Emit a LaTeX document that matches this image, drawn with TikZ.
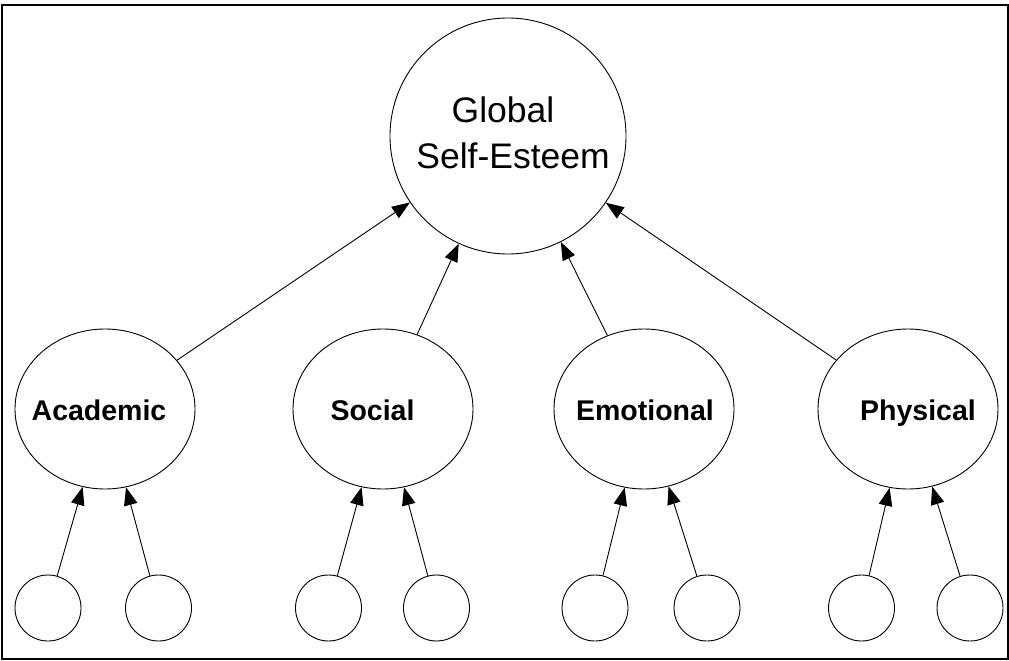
\documentclass[tikz,border=0pt]{standalone}
\usepackage{fontspec}
\setmainfont{Liberation Sans}
\usetikzlibrary{shapes.geometric,arrows.meta}
\begin{document}
\begin{tikzpicture}[x=1pt,y=-1pt,
  facet/.style={draw,ellipse,line width=0.9pt,minimum width=180pt,minimum height=160pt,inner sep=0pt},
  item/.style={draw,circle,line width=0.9pt,minimum size=66pt,inner sep=0pt},
  top/.style={draw,circle,line width=0.9pt,minimum size=236pt,inner sep=0pt},
  facetlabel/.style={anchor=base,inner sep=0pt,font=\fontsize{28.5}{34}\selectfont\bfseries},
  toplabel/.style={anchor=base,inner sep=0pt,font=\fontsize{35.5}{46}\selectfont},
  arr/.style={line width=0.9pt,-{Triangle[length=18pt,width=13.5pt]}}]
\useasboundingbox (0,0) rectangle (1009,661);
% frame
\draw[line width=2pt] (2,5) rectangle (1007.5,658.5);

% top construct
\node[top] (global) at (508,136) {};
\node[toplabel] (gl1) at (503,122) {Global};
\node[toplabel] (gl2) at (513,168) {Self-Esteem};

% facets
\node[facet] (academic)  at (105,409) {};
\node[facet] (social)    at (383,409) {};
\node[facet] (emotional) at (644,409) {};
\node[facet] (physical)  at (908,409) {};
\node[facetlabel] (tacad) at (99,420)  {Academic};
\node[facetlabel] (tsoc)  at (372.5,420) {Social};
\node[facetlabel] (temo)  at (645,420) {Emotional};
\node[facetlabel] (tphy)  at (918,420) {Physical};

% indicators
\node[item] (a1) at (48,608) {};
\node[item] (a2) at (158.5,608) {};
\node[item] (s1) at (328.5,608) {};
\node[item] (s2) at (436.5,608) {};
\node[item] (e1) at (595,608) {};
\node[item] (e2) at (707,608) {};
\node[item] (p1) at (861.5,608) {};
\node[item] (p2) at (970,608) {};

% paths
\foreach \f in {academic,social,emotional,physical}
  \draw[arr] (\f) -- (global);
\draw[arr] (a1) -- (academic);
\draw[arr] (a2) -- (academic);
\draw[arr] (s1) -- (social);
\draw[arr] (s2) -- (social);
\draw[arr] (e1) -- (emotional);
\draw[arr] (e2) -- (emotional);
\draw[arr] (p1) -- (physical);
\draw[arr] (p2) -- (physical);
\end{tikzpicture}
\end{document}
